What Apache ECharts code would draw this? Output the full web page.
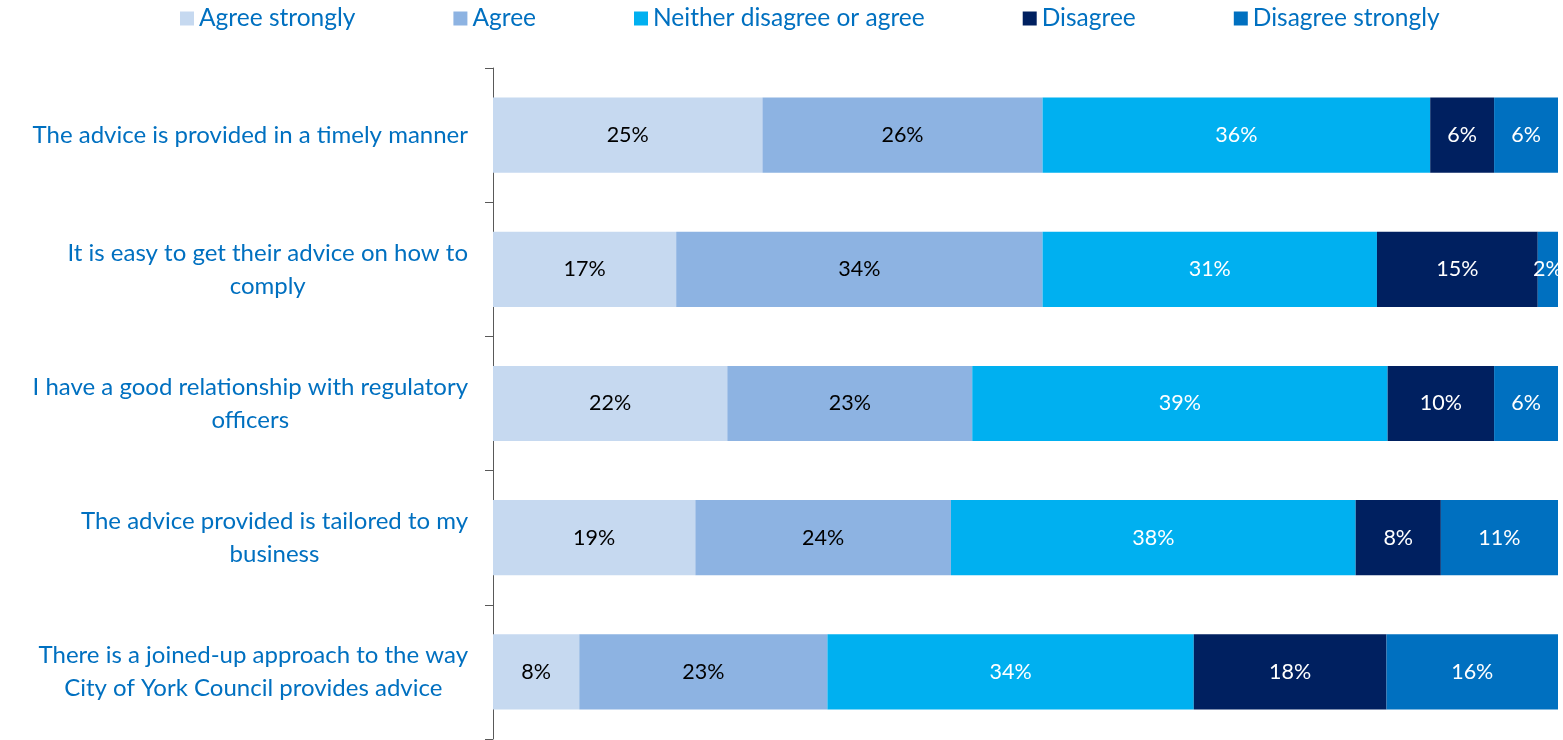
<!DOCTYPE html>
<html>
<head>
<meta charset="utf-8">
<script src="https://cdn.jsdelivr.net/npm/echarts@6/dist/echarts.min.js"></script>
<style>
  html, body { margin: 0; padding: 0; background: #fff; }
  #chart { width: 1563px; height: 740px; }
</style>
</head>
<body>
<div id="chart"></div>
<script>
var categories = [
    'The advice is provided in a timely manner',
    'It is easy to get their advice on how to\ncomply',
    'I have a good relationship with regulatory\nofficers',
    'The advice provided is tailored to my\nbusiness',
    'There is a joined-up approach to the way\nCity of York Council provides advice'
];
var seriesNames = ['Agree strongly', 'Agree', 'Neither disagree or agree', 'Disagree', 'Disagree strongly'];

// shares (labels show the rounded value)
var agreeStrongly    = [25.3, 17.2, 22.0, 19.0, 8.1];
var agree            = [26.3, 34.4, 23.0, 24.0, 23.3];
var neither          = [36.4, 31.4, 39.0, 38.0, 34.4];
var disagree         = [6.0, 15.1, 10.0, 8.0, 18.1];
var disagreeStrongly = [6.0, 1.9, 6.0, 11.0, 16.1];

var colors = ['#C6D9F0', '#8DB3E2', '#00B0F0', '#002060', '#0070C0'];
var labelColors = ['#000', '#000', '#fff', '#fff', '#fff'];
var font = 'Lato, "Open Sans", sans-serif';

var _makeSeries = function (idx, data) {
    return {
        name: seriesNames[idx],
        type: 'bar',
        stack: 'total',
        barWidth: '56%',
        data: data,
        itemStyle: { color: colors[idx] },
        label: {
            show: true,
            position: 'inside',
            color: labelColors[idx],
            fontFamily: font,
            fontSize: 21.5,
            formatter: function (p) { return Math.round(p.value) + '%'; }
        },
        emphasis: { disabled: true }
    };
};

var myChart = echarts.init(document.getElementById('chart'));

var option = {
    animation: false,
    color: colors,
    legend: {
        data: seriesNames,
        left: 175,
        top: 1,
        itemWidth: 14,
        itemHeight: 14,
        itemGap: 98,
        icon: 'rect',
        textStyle: {
            color: '#0070C0',
            fontFamily: font,
            fontSize: 24.5
        }
    },
    grid: {
        left: 493,
        right: 5,
        top: 68,
        bottom: 1,
        containLabel: false
    },
    xAxis: {
        type: 'value',
        min: 0,
        max: 100,
        show: false
    },
    yAxis: {
        type: 'category',
        inverse: true,
        data: categories,
        axisLine: { show: true, lineStyle: { color: '#595959', width: 1 } },
        axisTick: { show: true, length: 8, lineStyle: { color: '#595959' } },
        splitLine: { show: false },
        axisLabel: {
            margin: 25,
            align: 'right',
            formatter: function (v) {
                return v.split('\n').map(function (s) { return '{c|' + s + '}'; }).join('\n');
            },
            rich: {
                c: {
                    align: 'center',
                    color: '#0070C0',
                    fontFamily: font,
                    fontSize: 24,
                    lineHeight: 33
                }
            }
        }
    },
    series: [
        _makeSeries(0, agreeStrongly),
        _makeSeries(1, agree),
        _makeSeries(2, neither),
        _makeSeries(3, disagree),
        _makeSeries(4, disagreeStrongly)
    ]
};

myChart.setOption(option);
</script>
</body>
</html>
